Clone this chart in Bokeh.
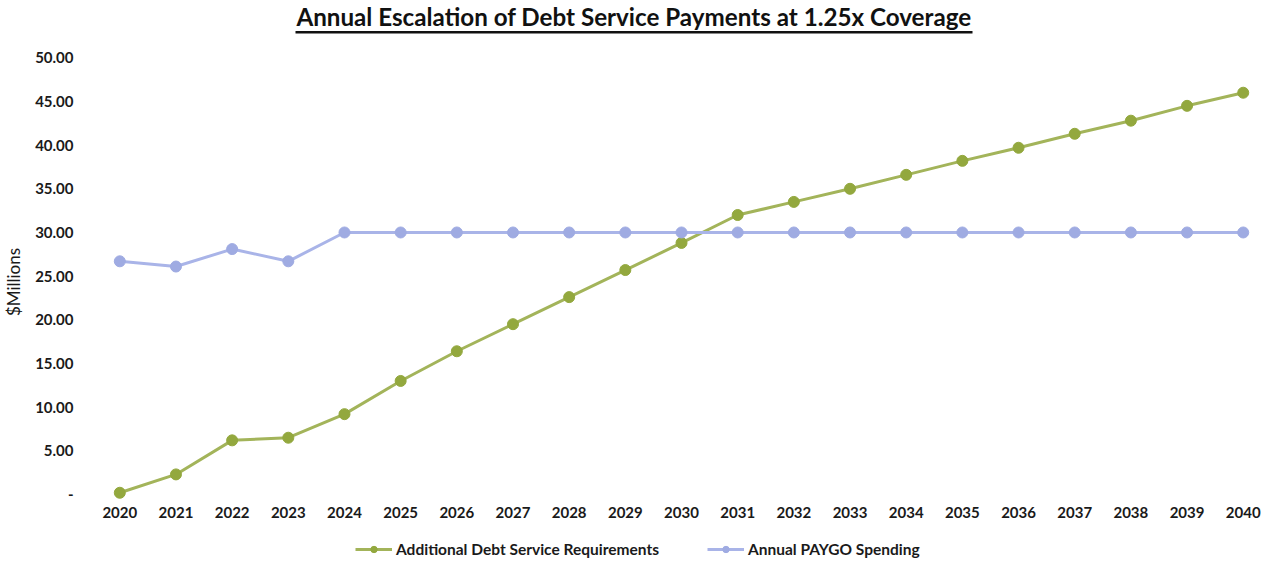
from bokeh.plotting import figure
from bokeh.models import (Legend, LegendItem, Label, BoxAnnotation, FixedTicker,
                          Range1d, ColumnDataSource)
from bokeh.embed import file_html
from bokeh.resources import INLINE

# ---------------- data ----------------
years = list(range(2020, 2041))
debt_service = [0.2, 2.3, 6.2, 6.5, 9.2, 13.0, 16.4, 19.5, 22.6, 25.7, 28.8,
                32.0, 33.5, 35.0, 36.6, 38.2, 39.7, 41.3, 42.8, 44.5, 46.0]
paygo = [26.7, 26.1, 28.1, 26.7, 30.0, 30.0, 30.0, 30.0, 30.0, 30.0, 30.0,
         30.0, 30.0, 30.0, 30.0, 30.0, 30.0, 30.0, 30.0, 30.0, 30.0]
y_ticks = [0, 5, 10, 15, 20, 25, 30, 35, 40, 45, 50]
y_tick_labels = ["-", "5.00", "10.00", "15.00", "20.00", "25.00", "30.00",
                 "35.00", "40.00", "45.00", "50.00"]
x_tick_labels = [str(y) for y in years]
series_names = ["Additional Debt Service Requirements", "Annual PAYGO Spending"]
title_text = "Annual Escalation of Debt Service Payments at 1.25x Coverage"
y_axis_title = "$Millions"

FONT = "Lato"
GREEN_LINE = "#A3B45A"
GREEN_MARK = "#93A83E"
BLUE_LINE = "#A9B4E8"
BLUE_MARK = "#9FABE2"

src = ColumnDataSource(dict(year=years, debt=debt_service, paygo=paygo))

# frame covers page x 97..1268 and the full height (title/legend live inside)
p = figure(width=1272, height=563, output_backend="svg", toolbar_location=None,
           x_range=Range1d(2019.603, 2040.45), y_range=Range1d(-7.9, 56.56),
           min_border_left=97, min_border_right=4, min_border_top=0,
           min_border_bottom=0)
p.outline_line_color = None
p.grid.visible = False

p.xaxis.ticker = FixedTicker(ticks=years)
p.xaxis.major_label_overrides = {y: l for y, l in zip(years, x_tick_labels)}
p.xaxis.fixed_location = -0.458
p.yaxis.ticker = FixedTicker(ticks=y_ticks)
p.yaxis.major_label_overrides = {t: l for t, l in zip(y_ticks, y_tick_labels)}
p.yaxis.bounds = (y_ticks[0], y_ticks[-1])
for ax in (p.xaxis, p.yaxis):
    ax.axis_line_color = None
    ax.major_tick_line_color = None
    ax.minor_tick_line_color = None
    ax.major_tick_out = 0
    ax.major_tick_in = 0
    ax.major_label_text_font = FONT
    ax.major_label_text_font_style = "bold"
    ax.major_label_text_font_size = "15px"
    ax.major_label_text_color = "#1a1a1a"
p.xaxis.major_label_standoff = 8
p.yaxis.major_label_standoff = 24
p.yaxis.axis_label = y_axis_title
p.yaxis.axis_label_text_font = FONT
p.yaxis.axis_label_text_font_style = "normal"
p.yaxis.axis_label_text_font_size = "17px"
p.yaxis.axis_label_text_color = "#1a1a1a"
p.yaxis.axis_label_standoff = 8

l1 = p.line("year", "debt", source=src, line_color=GREEN_LINE, line_width=3)
s1 = p.scatter("year", "debt", source=src, size=11, fill_color=GREEN_MARK,
               line_color=GREEN_MARK)
l2 = p.line("year", "paygo", source=src, line_color=BLUE_LINE, line_width=3)
s2 = p.scatter("year", "paygo", source=src, size=11, fill_color=BLUE_MARK,
               line_color=BLUE_MARK)

# title drawn inside the frame, with underline
p.add_layout(Label(x=536.5, y=546.6, x_units="screen", y_units="screen",
                   text=title_text, text_font=FONT, text_font_style="bold",
                   text_font_size="24.2px", text_align="center",
                   text_baseline="alphabetic", text_color="#111111"))
p.add_layout(BoxAnnotation(left=198, right=875, bottom=530, top=532.5,
                           left_units="screen", right_units="screen",
                           bottom_units="screen", top_units="screen",
                           fill_color="#111111", fill_alpha=1.0,
                           line_color=None))

legend = Legend(items=[LegendItem(label=series_names[0], renderers=[l1, s1]),
                       LegendItem(label=series_names[1], renderers=[l2, s2])],
                location=(258, 5), orientation="horizontal",
                label_text_font=FONT, label_text_font_style="bold",
                label_text_font_size="15.5px", label_text_color="#1a1a1a",
                glyph_width=37, glyph_height=16, label_height=16,
                label_standoff=4, spacing=48, padding=0, margin=0,
                border_line_color=None, background_fill_alpha=0)
p.add_layout(legend, "center")

open("out.html", "w").write(file_html(p, INLINE))
